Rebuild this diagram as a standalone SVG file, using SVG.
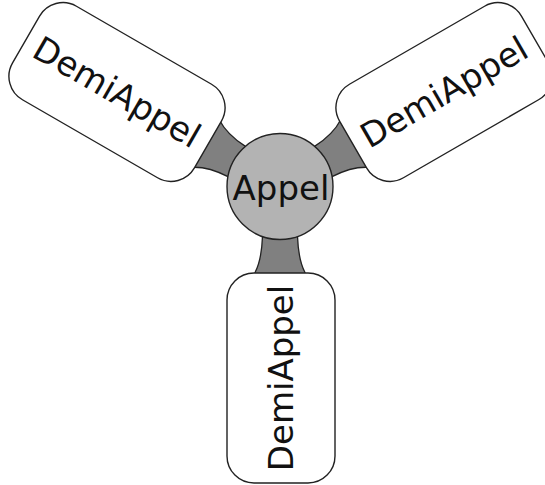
<svg xmlns="http://www.w3.org/2000/svg" width="545" height="485" viewBox="0 0 545 485">
<style>
.conn{fill:#808080;stroke:#222;stroke-width:1.3}
.box{fill:#fff;stroke:#222;stroke-width:1.4}
.hub{fill:#b3b3b3;stroke:#222;stroke-width:1.4}
.lbl{font-family:"DejaVu Sans",sans-serif;font-size:34px;fill:#111;text-anchor:middle}
</style>
<defs>
<path id="neck" d="M -17.5,30 L -17.5,50 Q -18.5,74 -25,86 L -25,100 L 25,100 L 25,86 Q 18.5,74 17.5,50 L 17.5,30 Z"/>
<path id="neckw" d="M -17.5,30 L -17.5,50 Q -18.5,72 -27.5,86 L -27.5,100 L 27.5,100 L 27.5,86 Q 18.5,72 17.5,50 L 17.5,30 Z"/>
</defs>
<rect width="545" height="485" fill="#fff"/>
<g id="connectors">
<use href="#neckw" class="conn" transform="translate(280,186.5) rotate(120)"/>
<use href="#neckw" class="conn" transform="translate(280,186.5) rotate(-120)"/>
<use href="#neck" class="conn" transform="translate(280,186.5)"/>
</g>
<g id="demi-left" transform="translate(117,92) rotate(30)">
<rect class="box" x="-105" y="-54" width="210" height="108" rx="27"/>
<text class="lbl" x="0" y="12">DemiAppel</text>
</g>
<g id="demi-right" transform="translate(444,92) rotate(-30)">
<rect class="box" x="-105" y="-54" width="210" height="108" rx="27"/>
<text class="lbl" x="0" y="12">DemiAppel</text>
</g>
<g id="demi-bottom" transform="translate(281,378) rotate(-90)">
<rect class="box" x="-105" y="-54" width="210" height="108" rx="27"/>
<text class="lbl" x="0" y="12">DemiAppel</text>
</g>
<g id="appel">
<circle class="hub" cx="280" cy="186.5" r="53"/>
<text class="lbl" x="281" y="200">Appel</text>
</g>
</svg>
